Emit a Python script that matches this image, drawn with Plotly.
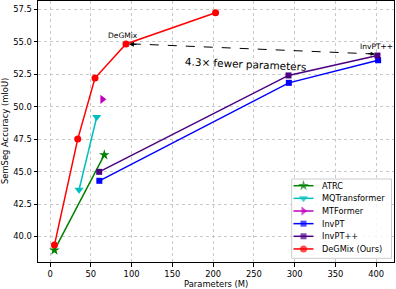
import plotly.graph_objects as go

# Data (Parameters in M, SemSeg mIoU)
atrc_x = [5.3, 66.5]
atrc_y = [38.95, 46.28]
mqt_x = [35.5, 57.2]
mqt_y = [43.6, 49.2]
mtf_x = [64.1]
mtf_y = [50.56]
invpt_x = [60.4, 292.9, 402.4]
invpt_y = [44.29, 51.83, 53.57]
invptpp_x = [60.2, 292.5, 401.6]
invptpp_y = [44.98, 52.4, 53.93]
degmix_x = [5.3, 33.9, 55.1, 93.1, 203.0]
degmix_y = [39.34, 47.5, 52.2, 54.82, 57.22]

x_ticks = [0, 50, 100, 150, 200, 250, 300, 350, 400]
y_ticks = [40.0, 42.5, 45.0, 47.5, 50.0, 52.5, 55.0, 57.5]

FONT = "DejaVu Sans"

series = [
    ("ATRC", atrc_x, atrc_y, "#008000", "star", 8),
    ("MQTransformer", mqt_x, mqt_y, "#00bfbf", "triangle-down", 8),
    ("MTFormer", mtf_x, mtf_y, "#bf00bf", "triangle-right", 8),
    ("InvPT", invpt_x, invpt_y, "#0000ff", "square", 6),
    ("InvPT++", invptpp_x, invptpp_y, "#4b0082", "square", 6),
    ("DeGMix (Ours)", degmix_x, degmix_y, "#ff0000", "circle", 7),
]

fig = go.Figure()
for name, xs, ys, col, sym, sz in series:
    fig.add_trace(go.Scatter(
        x=xs, y=ys, name=name, mode="lines+markers",
        line=dict(color=col, width=1.5),
        marker=dict(symbol=sym, size=sz, color=col, line=dict(width=0)),
        showlegend=False,
    ))

# dashed comparison arrow from InvPT++ to DeGMix
arr_start = (invptpp_x[-1] - 3.5, invptpp_y[-1] + 0.12)
arr_end = (degmix_x[3], degmix_y[3])
fig.add_shape(type="line", xref="x", yref="y",
              x0=arr_start[0], y0=arr_start[1], x1=arr_end[0] + 3.5, y1=arr_end[1] + 0.02,
              line=dict(color="black", width=1, dash="dash"))
fig.add_annotation(x=arr_end[0], y=arr_end[1], xref="x", yref="y",
                   ax=12, ay=0.55, showarrow=True, arrowhead=2, arrowsize=1,
                   arrowwidth=1, arrowcolor="black", standoff=3, text="")
fig.add_annotation(x=arr_start[0], y=arr_start[1], xref="x", yref="y",
                   ax=-8, ay=-0.4, showarrow=True, arrowhead=2, arrowsize=0.8,
                   arrowwidth=1, arrowcolor="black", standoff=0, text="")

fig.add_annotation(x=89.5, y=55.48, xref="x", yref="y", text="DeGMix", showarrow=False,
                   font=dict(family=FONT, size=7.5, color="black"))
fig.add_annotation(x=400.7, y=54.59, xref="x", yref="y", text="InvPT++", showarrow=False,
                   font=dict(family=FONT, size=7.5, color="black"))
fig.add_annotation(x=240.2, y=53.3, xref="x", yref="y", text="4.3× fewer parameters",
                   showarrow=False, textangle=2.6,
                   font=dict(family=FONT, size=10.4, color="black"))

# axis titles
fig.add_annotation(x=0.5, y=-0.084, xref="paper", yref="paper", text="Parameters (M)",
                   showarrow=False, xanchor="center", yanchor="middle",
                   font=dict(family=FONT, size=8.4, color="black"))
fig.add_annotation(x=-0.094, y=0.5, xref="paper", yref="paper", text="SemSeg Accuracy (mIoU)",
                   showarrow=False, xanchor="center", yanchor="middle", textangle=-90,
                   font=dict(family=FONT, size=8.4, color="black"))

# ---- custom legend (pixel-based overlay axis for entries) ----
L_LEFT, L_TOP, L_RIGHT, L_BOTTOM = 291.7, 179.0, 391.5, 258.3
fig.add_trace(go.Scatter(
    x=[L_LEFT, L_RIGHT, L_RIGHT, L_LEFT, L_LEFT],
    y=[L_TOP, L_TOP, L_BOTTOM, L_BOTTOM, L_TOP],
    xaxis="x2", yaxis="y2", mode="lines", fill="toself",
    fillcolor="rgba(255,255,255,0.85)", line=dict(color="#cccccc", width=1),
    showlegend=False, hoverinfo="skip",
))
for i, (name, xs, ys, col, sym, sz) in enumerate(series):
    yy = 185.7 + i * 12.65
    fig.add_trace(go.Scatter(
        x=[293.5, 303.5, 313.5], y=[yy, yy, yy], xaxis="x2", yaxis="y2",
        mode="lines+markers", line=dict(color=col, width=1.5),
        marker=dict(symbol=sym, size=[0, sz, 0], color=col, line=dict(width=0)),
        showlegend=False, hoverinfo="skip",
    ))
    fig.add_annotation(x=319.5, y=yy, xref="x2", yref="y2", text=name, showarrow=False,
                       xanchor="left", yanchor="middle",
                       font=dict(family=FONT, size=8.2, color="black"))

axis_common = dict(
    showline=True, linecolor="black", linewidth=1, mirror=True,
    ticks="outside", ticklen=3.5, tickwidth=1, tickcolor="black",
    showgrid=True, gridcolor="#c8c8c8", gridwidth=0.8, griddash="dot",
    zeroline=False, tickfont=dict(family=FONT, size=8.4, color="black"),
    automargin=False,
)

fig.update_layout(
    width=396, height=289,
    margin=dict(l=38, r=2, t=1, b=27),
    paper_bgcolor="white", plot_bgcolor="white",
    font=dict(family=FONT, size=8.4, color="black"),
    xaxis=dict(range=[-14.85, 421.9], tickvals=x_ticks, **axis_common),
    yaxis=dict(range=[38.04, 58.13], tickvals=y_ticks, tickformat=".1f", **axis_common),
    xaxis2=dict(overlaying="x", range=[38, 394], visible=False, showgrid=False, zeroline=False),
    yaxis2=dict(overlaying="y", range=[262, 1], visible=False, showgrid=False, zeroline=False),
    showlegend=False,
)

fig.write_html("out.html", config={"displayModeBar": False},
               post_script="document.body.style.margin='0';document.body.style.padding='0';")
